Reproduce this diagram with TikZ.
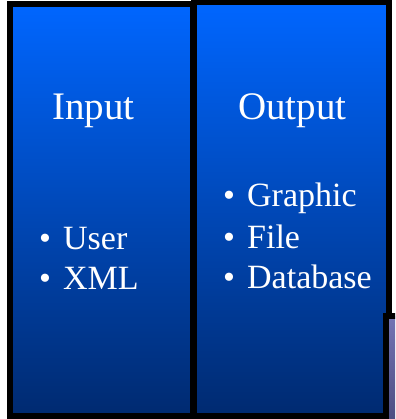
\documentclass[tikz,border=0pt]{standalone}
\usepackage{fontspec}
\setmainfont{Liberation Serif}
\usepackage{tikz}
\usetikzlibrary{positioning}
\definecolor{skyblue}{HTML}{0066FF}
\definecolor{midblue}{HTML}{0054D6}
\definecolor{deepblue}{HTML}{002A70}
\definecolor{lavender}{HTML}{7474B4}
\definecolor{duskpurple}{HTML}{3E3E6E}
\newcommand{\bul}{\makebox[24pt][l]{\textbullet}}

\begin{document}
\begin{tikzpicture}[
    x=1pt, y=-1pt,
    panel/.style={draw=black, line width=6pt, top color=skyblue, middle color=midblue, bottom color=deepblue},
    heading/.style={text=white, anchor=base, inner sep=0pt, font=\fontsize{39}{44}\selectfont},
    entry/.style={text=white, anchor=base west, inner sep=0pt, font=\fontsize{34}{40}\selectfont}
]
    \clip (0,0) rectangle (395,419);
    \fill[white] (0,0) rectangle (395,419);

    % Input panel on the left
    \draw[panel] (10,4.5) rectangle (193,416);
    \node[heading] (inputtitle) at (93.5,120) {Input};
    \node[entry] (user) at (39,249) {\bul User};
    \node[entry] (xml) at (39,289) {\bul XML};

    % Output panel on the right
    \draw[panel] (193.5,2.5) rectangle (388.5,416);
    \node[heading] (outputtitle) at (292.5,120) {Output};
    \node[entry] (graphic) at (223,207) {\bul Graphic};
    \node[entry] (file) at (223,248) {\bul File};
    \node[entry] (database) at (223,288) {\bul Database};

    % Edge of a further panel, cut off at the bottom right
    \draw[line width=6pt, top color=lavender, bottom color=duskpurple] (385.5,316) rectangle (440,460);
\end{tikzpicture}
\end{document}
